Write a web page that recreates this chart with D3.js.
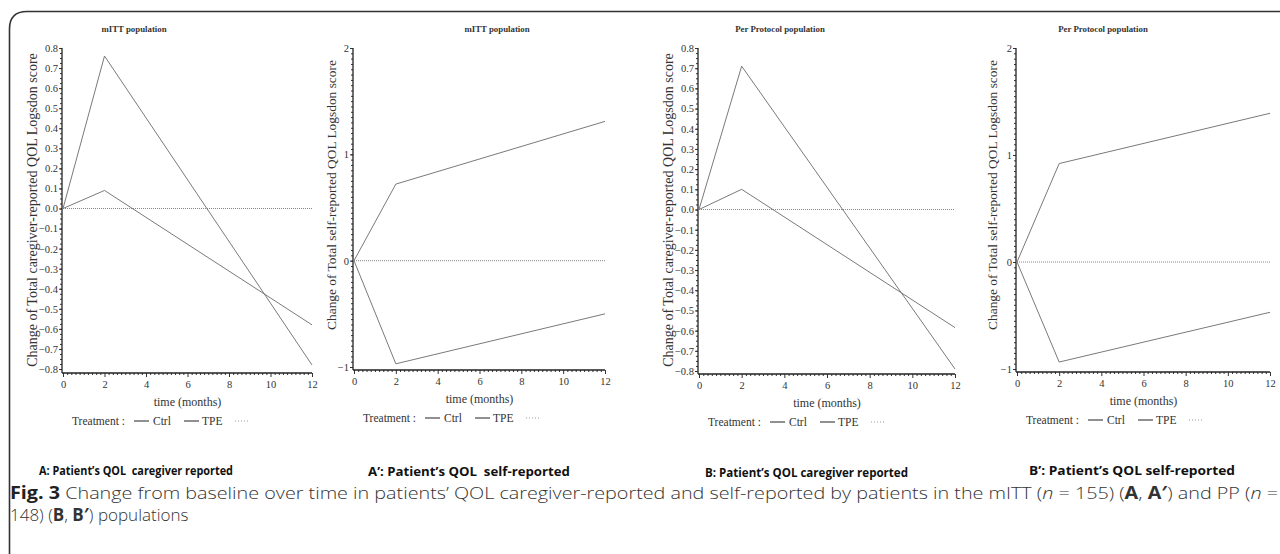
<!DOCTYPE html>
<html>
<head>
<meta charset="utf-8">
<script src="https://cdn.jsdelivr.net/npm/d3@7"></script>
<style>
  body { margin: 0; background: #fff; }
  svg { display: block; }
  .tick text { font-family: "Liberation Serif", serif; font-size: 10.5px; fill: #333; }
  .serif { font-family: "Liberation Serif", serif; fill: #333; }
</style>
</head>
<body>
<svg id="chart" width="1280" height="554"></svg>
<script>
// months of follow-up
const months = [0, 2, 12];
const monthTicks = [0, 2, 4, 6, 8, 10, 12];

// change from baseline
const mittCaregiverTPE = [0, 0.76, -0.78];
const mittCaregiverCtrl = [0, 0.09, -0.58];
const mittSelfTPE = [0, 0.72, 1.31];
const mittSelfCtrl = [0, -0.97, -0.50];
const ppCaregiverTPE = [0, 0.71, -0.79];
const ppCaregiverCtrl = [0, 0.10, -0.585];
const ppSelfTPE = [0, 0.92, 1.39];
const ppSelfCtrl = [0, -0.935, -0.47];

const caregiverTicks = [-0.8, -0.7, -0.6, -0.5, -0.4, -0.3, -0.2, -0.1, 0, 0.1, 0.2, 0.3, 0.4, 0.5, 0.6, 0.7, 0.8];
const selfTicks = [-1, 0, 1, 2];

const titles = ["mITT population", "mITT population", "Per Protocol population", "Per Protocol population"];
const yLabels = [
  "Change of Total caregiver-reported QOL Logsdon score",
  "Change of Total self-reported QOL Logsdon score",
  "Change of Total caregiver-reported QOL Logsdon score",
  "Change of Total self-reported QOL Logsdon score"
];
const panelLabels = [
  ["A", ": Patient\u2019s QOL\u00a0 caregiver reported"],
  ["A\u2019", ": Patient\u2019s QOL\u00a0 self-reported"],
  ["B", ": Patient\u2019s QOL caregiver reported"],
  ["B\u2019", ": Patient\u2019s QOL self-reported"]
];

const svg = d3.select("#chart");

// card frame with rounded top-left corner
svg.append("path")
  .attr("d", "M9.5,554 L9.5,29 Q9.5,11.5 27,11.5 L1280,11.5")
  .attr("fill", "none")
  .attr("stroke", "#333")
  .attr("stroke-width", 1.6);

const panels = [
  { tpe: mittCaregiverTPE, ctrl: mittCaregiverCtrl, ticks: caregiverTicks, minor: 0.025, fmt: d3.format(".1f"),
    x0: 63, x1: 312, yTop: 48, yBot: 369, axisY: 373, axisX: 62, titleX: 134,
    labelX: 37, labelY: 210, labelSize: 14,
    panelX: 39, panelY: 475, panelSize: 11.6, panelLen: 194 },
  { tpe: mittSelfTPE, ctrl: mittSelfCtrl, ticks: selfTicks, minor: 0.05, fmt: d3.format("d"),
    x0: 354, x1: 605, yTop: 48, yBot: 367, axisY: 370, axisX: 353, titleX: 497,
    labelX: 336, labelY: 195, labelSize: 13.4,
    panelX: 368, panelY: 476, panelSize: 12.4, panelLen: 202 },
  { tpe: ppCaregiverTPE, ctrl: ppCaregiverCtrl, ticks: caregiverTicks, minor: 0.025, fmt: d3.format(".1f"),
    x0: 699, x1: 955, yTop: 48, yBot: 371, axisY: 374, axisX: 698, titleX: 780,
    labelX: 673, labelY: 210, labelSize: 14,
    panelX: 705, panelY: 477, panelSize: 11.7, panelLen: 203 },
  { tpe: ppSelfTPE, ctrl: ppSelfCtrl, ticks: selfTicks, minor: 0.05, fmt: d3.format("d"),
    x0: 1017, x1: 1270, yTop: 48, yBot: 369, axisY: 372, axisX: 1016, titleX: 1103,
    labelX: 997, labelY: 195, labelSize: 13.4,
    panelX: 1029, panelY: 475, panelSize: 12.6, panelLen: 206 }
];

panels.forEach((p, i) => {
  const g = svg.append("g");
  const yMin = d3.min(p.ticks), yMax = d3.max(p.ticks);

  const x = d3.scaleLinear().domain([0, 12]).range([p.x0, p.x1]);
  const y = d3.scaleLinear().domain([yMin, yMax]).range([p.yBot, p.yTop]);

  // minor ticks
  const xMinor = d3.range(0, 61).map(d => d / 5).filter(d => d % 2 !== 0);
  g.append("g")
    .attr("transform", `translate(0,${p.axisY})`)
    .call(d3.axisBottom(x).tickValues(xMinor).tickSize(2).tickFormat(""))
    .call(a => a.select(".domain").remove())
    .selectAll("line").attr("stroke", "#333");

  const nMinor = Math.round((yMax - yMin) / p.minor);
  const yMinor = d3.range(0, nMinor + 1).map(d => yMin + d * p.minor);
  g.append("g")
    .attr("transform", `translate(${p.axisX},0)`)
    .call(d3.axisLeft(y).tickValues(yMinor).tickSize(2).tickFormat(""))
    .call(a => a.select(".domain").remove())
    .selectAll("line").attr("stroke", "#333");

  // major ticks
  g.append("g")
    .attr("transform", `translate(0,${p.axisY})`)
    .call(d3.axisBottom(x).tickValues(monthTicks).tickSize(4).tickPadding(4))
    .call(a => a.select(".domain").remove())
    .call(a => a.selectAll("line").attr("stroke", "#333"));

  g.append("g")
    .attr("transform", `translate(${p.axisX},0)`)
    .call(d3.axisLeft(y).tickValues(p.ticks).tickSize(3).tickPadding(1).tickFormat(p.fmt))
    .call(a => a.select(".domain").remove())
    .call(a => a.selectAll("line").attr("stroke", "#333"));

  // axis lines
  g.append("line")
    .attr("x1", p.axisX).attr("x2", p.axisX)
    .attr("y1", y(yMax)).attr("y2", p.axisY)
    .attr("stroke", "#222").attr("stroke-width", 1.3);
  g.append("line")
    .attr("x1", p.axisX).attr("x2", x(12))
    .attr("y1", p.axisY).attr("y2", p.axisY)
    .attr("stroke", "#222").attr("stroke-width", 1.3);

  // reference line at zero
  g.append("line")
    .attr("x1", x(0)).attr("x2", x(12))
    .attr("y1", y(0)).attr("y2", y(0))
    .attr("stroke", "#888").attr("stroke-width", 1)
    .attr("stroke-dasharray", "1,1");

  const line = d3.line()
    .x((d, j) => x(months[j]))
    .y(d => y(d));

  [p.tpe, p.ctrl].forEach(series => {
    g.append("path")
      .datum(series)
      .attr("d", line)
      .attr("fill", "none")
      .attr("stroke", "#7a7a7a")
      .attr("stroke-width", 1);
  });

  // title
  g.append("text")
    .attr("class", "serif")
    .attr("x", p.titleX)
    .attr("y", 32)
    .attr("text-anchor", "middle")
    .attr("font-size", 8.8)
    .attr("font-weight", "bold")
    .attr("fill", "#222")
    .text(titles[i]);

  // y label
  g.append("text")
    .attr("class", "serif")
    .attr("transform", `translate(${p.labelX},${p.labelY}) rotate(-90)`)
    .attr("text-anchor", "middle")
    .attr("font-size", p.labelSize)
    .text(yLabels[i]);

  // x label
  g.append("text")
    .attr("class", "serif")
    .attr("x", (p.x0 + p.x1) / 2)
    .attr("y", p.axisY + 33)
    .attr("text-anchor", "middle")
    .attr("font-size", 12)
    .text("time (months)");

  // legend
  const ly = p.axisY + 52;
  const lg = g.append("g").attr("transform", `translate(${p.axisX},${ly})`);
  lg.append("text").attr("class", "serif").attr("x", 10).attr("y", 0)
    .attr("font-size", 11.5).text("Treatment :");
  lg.append("line").attr("x1", 72).attr("x2", 87).attr("y1", -4).attr("y2", -4)
    .attr("stroke", "#222").attr("stroke-width", 1);
  lg.append("text").attr("class", "serif").attr("x", 91).attr("y", 0)
    .attr("font-size", 11.5).text("Ctrl");
  lg.append("line").attr("x1", 122).attr("x2", 137).attr("y1", -4).attr("y2", -4)
    .attr("stroke", "#222").attr("stroke-width", 1);
  lg.append("text").attr("class", "serif").attr("x", 140).attr("y", 0)
    .attr("font-size", 11.5).text("TPE");
  lg.append("line").attr("x1", 173).attr("x2", 186).attr("y1", -4).attr("y2", -4)
    .attr("stroke", "#999").attr("stroke-width", 1).attr("stroke-dasharray", "1,2");

  // panel label
  const pl = svg.append("text")
    .attr("x", p.panelX).attr("y", p.panelY)
    .attr("font-family", "'Open Sans', sans-serif")
    .attr("font-size", p.panelSize)
    .attr("font-weight", "bold")
    .attr("fill", "#111")
    .attr("textLength", p.panelLen)
    .attr("lengthAdjust", "spacingAndGlyphs");
  pl.append("tspan").text(panelLabels[i][0]);
  pl.append("tspan").text(panelLabels[i][1]);
});

// figure caption
const cap = svg.append("text")
  .attr("x", 10).attr("y", 499)
  .attr("font-family", "'Open Sans', sans-serif")
  .attr("font-size", 17)
  .attr("font-weight", 300)
  .attr("fill", "#333")
  .attr("textLength", 1268)
  .attr("lengthAdjust", "spacingAndGlyphs");
cap.append("tspan").attr("font-weight", "bold").attr("fill", "#222").text("Fig. 3");
cap.append("tspan").text(" Change from baseline over time in patients\u2019 QOL caregiver-reported and self-reported by patients in the mITT (");
cap.append("tspan").attr("font-style", "italic").text("n");
cap.append("tspan").text(" = 155) (");
cap.append("tspan").attr("font-weight", "bold").text("A");
cap.append("tspan").text(", ");
cap.append("tspan").attr("font-weight", "bold").text("A\u2032");
cap.append("tspan").text(") and PP (");
cap.append("tspan").attr("font-style", "italic").text("n");
cap.append("tspan").text(" =");

const cap2 = svg.append("text")
  .attr("x", 10).attr("y", 521)
  .attr("font-family", "'Open Sans', sans-serif")
  .attr("font-size", 17)
  .attr("font-weight", 300)
  .attr("fill", "#333");
cap2.append("tspan").text("148) (");
cap2.append("tspan").attr("font-weight", "bold").text("B");
cap2.append("tspan").text(", ");
cap2.append("tspan").attr("font-weight", "bold").text("B\u2032");
cap2.append("tspan").text(") populations");
</script>
</body>
</html>
